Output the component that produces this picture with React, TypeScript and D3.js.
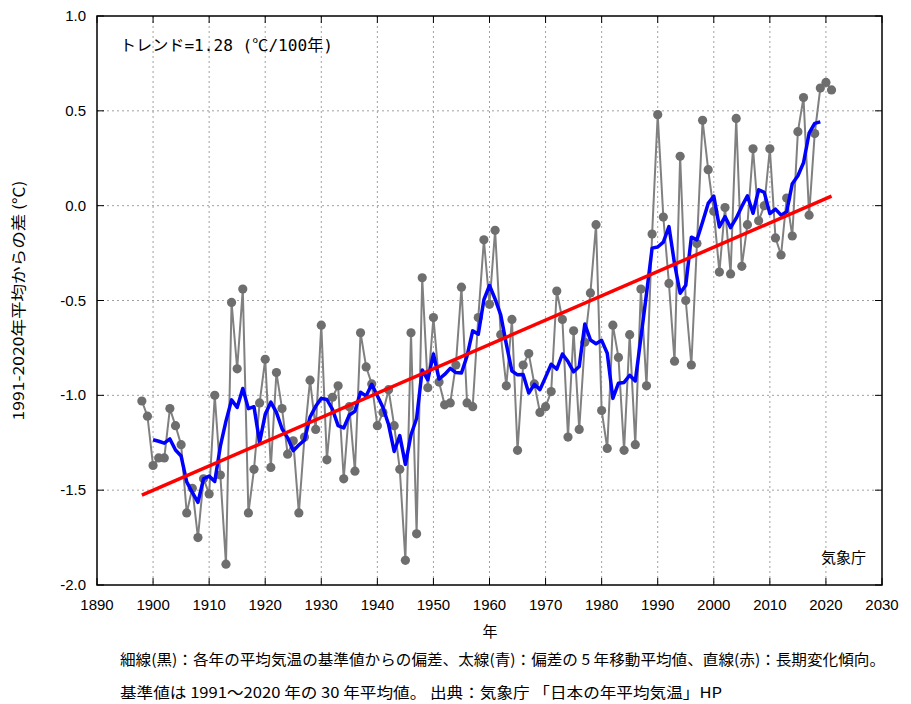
import React from "react";
import * as d3 from "d3";

const startYear = 1898;
const anomalies: number[] = [
  -1.03, -1.11, -1.37, -1.33, -1.33, -1.07, -1.16, -1.26, -1.62, -1.49,
  -1.75, -1.44, -1.52, -1.0, -1.42, -1.89, -0.51, -0.86, -0.44, -1.62,
  -1.39, -1.04, -0.81, -1.38, -0.88, -1.07, -1.31, -1.24, -1.62, -1.22,
  -0.92, -1.18, -0.63, -1.34, -1.01, -0.95, -1.44, -1.06, -1.4, -0.67,
  -0.85, -0.94, -1.16, -1.09, -0.97, -1.16, -1.39, -1.87, -0.67, -1.73,
  -0.38, -0.96, -0.59, -0.93, -1.05, -1.04, -0.84, -0.43, -1.04, -1.06,
  -0.59, -0.18, -0.52, -0.13, -0.68, -0.95, -0.6, -1.29, -0.84, -0.78,
  -0.94, -1.09, -1.06, -0.98, -0.45, -0.6, -1.22, -0.66, -1.18, -0.72,
  -0.46, -0.1, -1.08, -1.28, -0.63, -0.8, -1.29, -0.68, -1.26, -0.44,
  -0.95, -0.15, 0.48, -0.06, -0.41, -0.82, 0.26, -0.5, -0.84, -0.2,
  0.45, 0.19, -0.03, -0.35, -0.01, -0.36, 0.46, -0.32, -0.1, 0.3,
  -0.08, 0.0, 0.3, -0.17, -0.26, 0.04, -0.16, 0.39, 0.57, -0.05,
  0.38, 0.62, 0.65, 0.61,
];
const xTicks = [1890, 1900, 1910, 1920, 1930, 1940, 1950, 1960, 1970, 1980, 1990, 2000, 2010, 2020, 2030];
const yTicks = [1.0, 0.5, 0.0, -0.5, -1.0, -1.5, -2.0];
const trendText = "トレンド=1.28 (℃/100年)";
const yTitle = "1991-2020年平均からの差 (℃)";
const xTitle = "年";
const credit = "気象庁";
const caption1 = "細線(黒)：各年の平均気温の基準値からの偏差、太線(青)：偏差の 5 年移動平均値、直線(赤)：長期変化傾向。";
const caption2 = "基準値は 1991～2020 年の 30 年平均値。 出典：気象庁 「日本の年平均気温」HP";

const W = 911, H = 704;
const L = 97, R = 882, T = 16, B = 585;
const font = "'Noto Sans CJK JP', 'DejaVu Sans', sans-serif";
const tickFont = "'Liberation Sans', Arial, sans-serif";
const mono = "'DejaVu Sans Mono', 'Noto Sans CJK JP', monospace";

export default function App() {
  const data = anomalies.map((v, i) => ({ year: startYear + i, v }));
  const x = d3.scaleLinear().domain([1890, 2030]).range([L, R]);
  const y = d3.scaleLinear().domain([-2.0, 1.0]).range([B, T]);

  const ma: { year: number; v: number }[] = [];
  for (let i = 2; i < data.length - 2; i++) {
    const m = d3.mean(data.slice(i - 2, i + 3), (d) => d.v) as number;
    ma.push({ year: data[i].year, v: m });
  }
  const mx = d3.mean(data, (d) => d.year) as number;
  const my = d3.mean(data, (d) => d.v) as number;
  let sxy = 0, sxx = 0;
  data.forEach((d) => { sxy += (d.year - mx) * (d.v - my); sxx += (d.year - mx) ** 2; });
  const slope = sxy / sxx;
  const fit = (yr: number) => my + slope * (yr - mx);
  const y0 = data[0].year, y1 = data[data.length - 1].year;

  const line = d3.line<{ year: number; v: number }>().x((d) => x(d.year)).y((d) => y(d.v));

  return (
    <svg width={W} height={H} style={{ position: "absolute", left: 0, top: 0, background: "#fff" }}>
      {xTicks.slice(1, -1).map((t) => (
        <line key={"gx" + t} x1={x(t)} x2={x(t)} y1={T} y2={B} stroke="#a0a0a0" strokeWidth={1} strokeDasharray="2,3" />
      ))}
      {yTicks.slice(1, -1).map((t) => (
        <line key={"gy" + t} x1={L} x2={R} y1={y(t)} y2={y(t)} stroke="#a0a0a0" strokeWidth={1} strokeDasharray="2,3" />
      ))}
      {xTicks.map((t) => (
        <g key={"tx" + t}>
          <line x1={x(t)} x2={x(t)} y1={B} y2={B - 7} stroke="#000" strokeWidth={1} />
          <line x1={x(t)} x2={x(t)} y1={T} y2={T + 7} stroke="#000" strokeWidth={1} />
          <text x={x(t)} y={B + 25} textAnchor="middle" fontFamily={tickFont} fontSize={15} fill="#000">{t}</text>
        </g>
      ))}
      {yTicks.map((t) => (
        <g key={"ty" + t}>
          <line x1={L} x2={L + 7} y1={y(t)} y2={y(t)} stroke="#000" strokeWidth={1} />
          <line x1={R} x2={R - 7} y1={y(t)} y2={y(t)} stroke="#000" strokeWidth={1} />
          <text x={L - 11} y={y(t) + 5} textAnchor="end" fontFamily={tickFont} fontSize={15} fill="#000">{t.toFixed(1)}</text>
        </g>
      ))}
      <path d={line(data) || ""} fill="none" stroke="#808080" strokeWidth={2} />
      {data.map((d) => (
        <circle key={"p" + d.year} cx={x(d.year)} cy={y(d.v)} r={4.6} fill="#6e6e6e" />
      ))}
      <path d={line(ma) || ""} fill="none" stroke="#0000ff" strokeWidth={3.5} strokeLinejoin="round" />
      <line x1={x(y0)} x2={x(y1)} y1={y(fit(y0))} y2={y(fit(y1))} stroke="#ff0000" strokeWidth={3.5} />
      <rect x={L} y={T} width={R - L} height={B - T} fill="none" stroke="#000" strokeWidth={1.5} />
      <text x={120} y={51} fontFamily={mono} fontSize={15.5} fill="#000" textLength={213} lengthAdjust="spacingAndGlyphs">{trendText}</text>
      <text x={866} y={563} textAnchor="end" fontFamily={font} fontSize={15} fill="#000">{credit}</text>
      <text x={490} y={637} textAnchor="middle" fontFamily={font} fontSize={15} fill="#000">{xTitle}</text>
      <text transform={`translate(24,${(T + B) / 2}) rotate(-90)`} textAnchor="middle" fontFamily={font} fontSize={15} fill="#000" textLength={240} lengthAdjust="spacingAndGlyphs">{yTitle}</text>
      <text x={120} y={665} fontFamily={font} fontSize={15} fill="#000" textLength={765} lengthAdjust="spacingAndGlyphs">{caption1}</text>
      <text x={120} y={698} fontFamily={font} fontSize={15} fill="#000" textLength={602} lengthAdjust="spacingAndGlyphs">{caption2}</text>
    </svg>
  );
}
